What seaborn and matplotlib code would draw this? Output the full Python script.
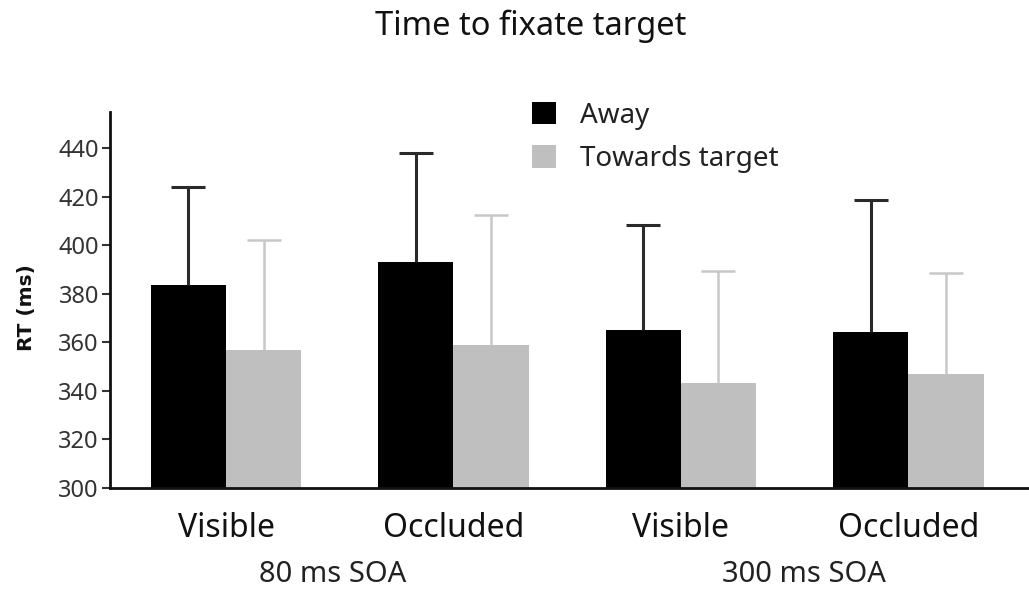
import matplotlib
matplotlib.use("Agg")
import matplotlib.pyplot as plt
import matplotlib.transforms as mtransforms
import seaborn as sns
import pandas as pd
import numpy as np

# ---- data ----
conditions = ["Visible 80", "Occluded 80", "Visible 300", "Occluded 300"]
tick_labels = ["Visible", "Occluded", "Visible", "Occluded"]
soa_labels = ["80 ms SOA", "300 ms SOA"]
series = ["Away", "Towards target"]
away_mean = [383.6, 393.1, 365.3, 364.2]
away_err = [40.3, 45.0, 43.2, 54.7]
towards_mean = [356.9, 359.1, 343.1, 346.9]
towards_err = [45.2, 53.3, 46.2, 41.6]

df = pd.DataFrame({
    "condition": conditions * 2,
    "group": [series[0]] * 4 + [series[1]] * 4,
    "rt": away_mean + towards_mean,
})

sns.set_theme(style="ticks")
plt.rcParams["font.family"] = ["Noto Sans", "DejaVu Sans"]

fig = plt.figure(figsize=(10.29, 5.93), dpi=100)
ax = fig.add_axes([110 / 1029, 105 / 593, (1029 - 110) / 1029, (488 - 112) / 593])

colors = {"Away": "#000000", "Towards target": "#bfbfbf"}
sns.barplot(data=df, x="condition", y="rt", hue="group", order=conditions,
            hue_order=series, palette=colors, width=0.66, errorbar=None,
            saturation=1, ax=ax, linewidth=0)

# error bars (upper only), positioned from the bars the library drew
err_colors = {"Away": "#2a2a2a", "Towards target": "#c8c8c8"}
err_lw = {"Away": 2.2, "Towards target": 1.8}
for cont, name, means, errs in zip(ax.containers, series,
                                    [away_mean, towards_mean],
                                    [away_err, towards_err]):
    xs = [p.get_x() + p.get_width() / 2 for p in cont.patches]
    eb = ax.errorbar(xs, means, yerr=[np.zeros(len(errs)), errs], fmt="none",
                     ecolor=err_colors[name], elinewidth=err_lw[name],
                     capsize=12, capthick=err_lw[name], zorder=1)
    caps = eb[1]
    if len(caps) == 2:
        caps[0].set_visible(False)

ax.set_ylim(300, 455)
ax.set_xlim(-0.51, 3.53)
ax.set_yticks(np.arange(300, 441, 20))
ax.set_xticks(range(4))
ax.set_xticklabels(tick_labels, fontsize=23, color="#111111")
ax.tick_params(axis="x", length=0, pad=17)
ax.tick_params(axis="y", length=6, width=1.5, labelsize=17, colors="#333333", pad=2)
for s in ["top", "right"]:
    ax.spines[s].set_visible(False)
for s in ["left", "bottom"]:
    ax.spines[s].set_linewidth(2)
    ax.spines[s].set_color("#111111")
ax.set_xlabel("")
ax.set_ylabel("RT (ms)", fontsize=14.5, fontweight="bold", family="DejaVu Sans",
              color="#111111")
ax.yaxis.set_label_coords(-0.0805, 0.479)

# group labels below tick labels
trans = mtransforms.blended_transform_factory(ax.transData, fig.transFigure)
for xpos, lab in zip([0.47, 2.54], soa_labels):
    ax.text(xpos, 1 - 574 / 593, lab, transform=trans, ha="center",
            va="center", fontsize=21, color="#222222")

# legend
leg = ax.legend(loc="upper left", bbox_to_anchor=(518 / 1029, 1 - 88 / 593),
                bbox_transform=fig.transFigure, frameon=False, fontsize=20,
                handlelength=0.85, handleheight=0.85, handletextpad=0.9,
                labelspacing=0.55, borderpad=0)
for t in leg.get_texts():
    t.set_color("#222222")

fig.text(531 / 1029, 1 - 26 / 593, "Time to fixate target", ha="center",
         va="center", fontsize=23.5, color="#111111")

fig.savefig("out.png", dpi=100)
